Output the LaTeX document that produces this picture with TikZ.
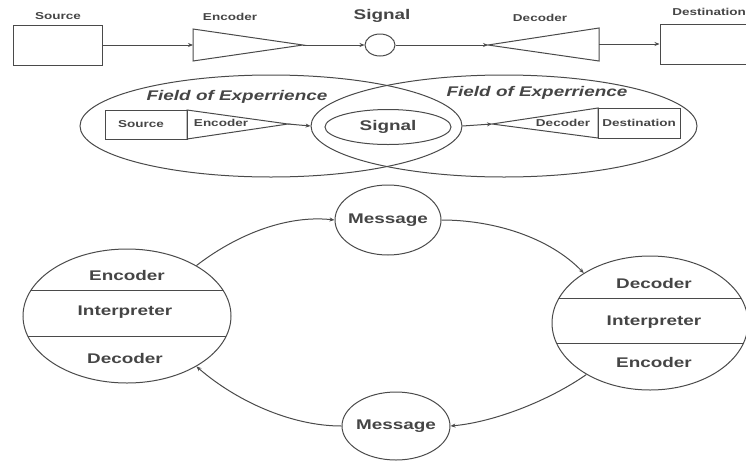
\documentclass[tikz,border=0pt]{standalone}
\usepackage{fontspec}
\setmainfont{Liberation Sans}[FakeStretch=1.35]
\usetikzlibrary{arrows.meta,shapes.geometric}
\definecolor{ln}{HTML}{4A4A4A}
\definecolor{tx}{HTML}{454545}
\begin{document}
\begin{tikzpicture}[x=1pt,y=-1pt,line width=1pt,
  every node/.style={text=tx},
  arr/.style={draw=ln,-{Stealth[length=5pt,width=4pt]}},
  box/.style={draw=ln,rectangle,inner sep=0pt},
  ell/.style={draw=ln,ellipse,inner sep=0pt},
  tri/.style={draw=ln,line join=miter},
  small/.style={font=\bfseries\fontsize{10}{12}\selectfont},
  big/.style={font=\bfseries\fontsize{14}{16}\selectfont},
  field/.style={font=\bfseries\itshape\fontsize{14}{16}\selectfont},
  lab/.style={font=\bfseries\fontsize{14}{16}\selectfont}]
\useasboundingbox (0,0) rectangle (746,461);
\clip (0,0) rectangle (746,461);
% ---------- top row ----------
\node[box,minimum width=89pt,minimum height=40pt] (src) at (57.5,45) {};
\node[small] (srcl) at (58,16) {Source};
\coordinate (encL) at (193,45);
\coordinate (encR) at (303,45);
\draw[tri] (193,29) -- (encR) -- (193,61) -- cycle;
\node[small] (encl) at (230,17) {Encoder};
\node[ell,minimum width=30pt,minimum height=22pt] (sig) at (380,45) {};
\node[big] (sigl) at (382,16) {Signal};
\coordinate (decL) at (488,45);
\coordinate (decR) at (599,44);
\draw[tri] (decL) -- (599,28) -- (599,61) -- cycle;
\node[small] (decl) at (540,18) {Decoder};
\node[box,minimum width=100pt,minimum height=40pt] (dst) at (710,44) {};
\node[small] (dstl) at (709,12) {Destination};
\draw[arr] (src.east) -- (encL);
\draw[arr] (encR) -- (sig.west);
\draw[arr] (sig.east) -- (decL);
\draw[arr] (decR) -- (dst.west);
% ---------- middle row ----------
\node[ell,minimum width=382pt,minimum height=102pt] (fl) at (271,126) {};
\node[ell,minimum width=386pt,minimum height=102pt] (fr) at (504,126) {};
\node[field] (fll) at (237,97) {Field of Experrience};
\node[field] (frl) at (537,93) {Field of Experrience};
\node[box,minimum width=82pt,minimum height=29pt] (msrc) at (146,124.5) {};
\node[small] (msrcl) at (141,124) {Source};
\coordinate (mencR) at (288,124);
\draw[tri] (187,110) -- (mencR) -- (187,139) -- cycle;
\node[small] (mencl) at (221,123) {Encoder};
\node[ell,minimum width=126pt,minimum height=35pt] (msig) at (388,127) {};
\node[big] (msigl) at (388,127) {Signal};
\coordinate (mdecL) at (492,124);
\draw[tri] (mdecL) -- (598,108) -- (598,138) -- cycle;
\node[small] (mdecl) at (563,123) {Decoder};
\node[box,minimum width=82pt,minimum height=30pt] (mdst) at (639,123) {};
\node[small] (mdstl) at (639,123) {Destination};
\draw[arr] (mencR) -- (fr.west);
\draw[arr] (fl.east) -- (mdecL);
% ---------- bottom cycle ----------
\node[ell,minimum width=106pt,minimum height=70pt] (msgT) at (388,220) {};
\node[lab] (msgTl) at (388,220) {Message};
\node[ell,minimum width=108pt,minimum height=68pt] (msgB) at (396,426) {};
\node[lab] (msgBl) at (396,426) {Message};
\node[ell,minimum width=208pt,minimum height=134pt] (L) at (127,316) {};
\begin{scope}
  \clip (127,316) ellipse [x radius=104pt, y radius=67pt];
  \draw[ln] (20,290) -- (240,290);
  \draw[ln] (20,336) -- (240,336);
\end{scope}
\node[lab] (L1) at (127,275) {Encoder};
\node[lab] (L2) at (125,312) {Interpreter};
\node[lab] (L3) at (125,358) {Decoder};
\node[ell,minimum width=196pt,minimum height=134pt] (R) at (650,323) {};
\begin{scope}
  \clip (650,323) ellipse [x radius=98pt, y radius=67pt];
  \draw[ln] (540,298) -- (760,298);
  \draw[ln] (540,343) -- (760,343);
\end{scope}
\node[lab] (R1) at (654,283) {Decoder};
\node[lab] (R2) at (654,322) {Interpreter};
\node[lab] (R3) at (654,362) {Encoder};
\draw[arr] (L.36) .. controls (240,232) and (290,215) .. (msgT.west);
\draw[arr] (msgT.east) .. controls (495,220) and (550,238) .. (R.143);
\draw[arr] (R.219) .. controls (550,400) and (495,422) .. (msgB.east);
\draw[arr] (msgB.west) .. controls (290,426) and (235,400) .. (L.-36);
\end{tikzpicture}
\end{document}
